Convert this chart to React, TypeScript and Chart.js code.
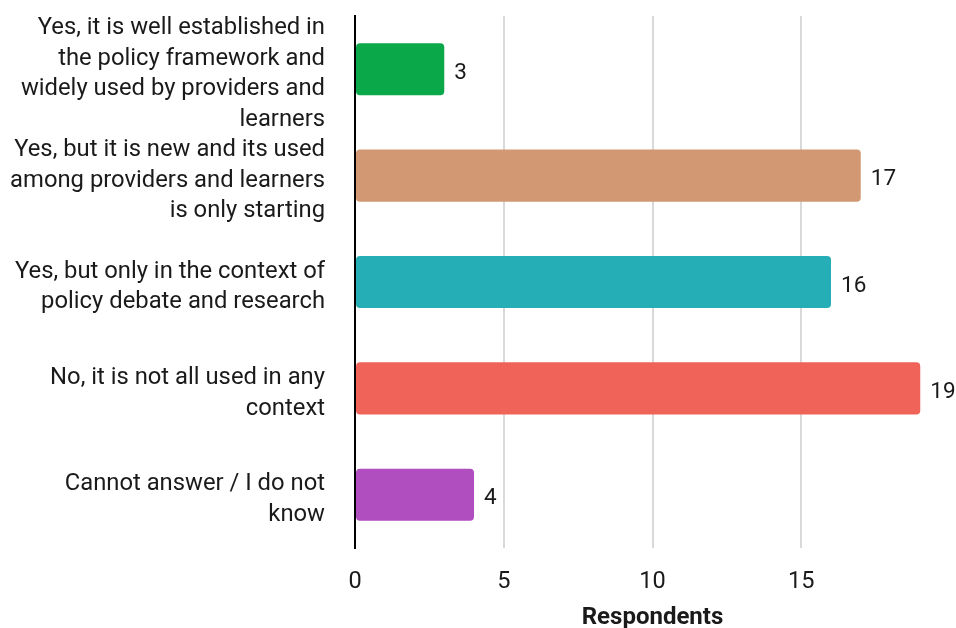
import React, { useEffect, useRef } from "react";
import { Chart, registerables } from "chart.js";

Chart.register(...registerables);

const categories: string[][] = [
  ["Yes, it is well established in", "the policy framework and", "widely used by providers and", "learners"],
  ["Yes, but it is new and its used", "among providers and learners", "is only starting"],
  ["Yes, but only in the context of", "policy debate and research"],
  ["No, it is not all used in any", "context"],
  ["Cannot answer / I do not", "know"],
];
const respondents: number[] = [3, 17, 16, 19, 4];
const barColors: string[] = ["#0BA84A", "#D29873", "#26AEB7", "#EF6359", "#B04EBF"];
const xTitle = "Respondents";

const valueLabels = {
  id: "valueLabels",
  afterDatasetsDraw(chart: any) {
    const ctx = chart.ctx;
    const meta = chart.getDatasetMeta(0);
    const data = chart.data.datasets[0].data;
    ctx.save();
    ctx.font = "22.5px Roboto";
    ctx.fillStyle = "#1a1a1a";
    ctx.textAlign = "left";
    ctx.textBaseline = "middle";
    meta.data.forEach((bar: any, i: number) => {
      ctx.fillText(String(data[i]), bar.x + 10, bar.y + 4);
    });
    ctx.restore();
  },
};

export default function App() {
  const ref = useRef<HTMLCanvasElement>(null);
  useEffect(() => {
    if (!ref.current) return;
    const chart = new Chart(ref.current, {
      type: "bar",
      data: {
        labels: categories,
        datasets: [
          {
            data: respondents,
            backgroundColor: barColors,
            borderRadius: 4,
            borderSkipped: false,
            barPercentage: 0.49,
            categoryPercentage: 1,
          },
        ],
      },
      options: {
        indexAxis: "y",
        responsive: false,
        animation: false,
        layout: { padding: { top: 16, right: 6, left: 0, bottom: 0 } },
        plugins: { legend: { display: false }, tooltip: { enabled: false } },
        scales: {
          x: {
            min: 0,
            max: 20,
            ticks: {
              stepSize: 5,
              padding: 20,
              color: "#1a1a1a",
              font: { family: "Roboto", size: 23.5 },
              callback: (v: any) => (v === 20 ? "" : String(v)),
            },
            grid: {
              drawTicks: false,
              lineWidth: 2,
              color: (c: any) => (c.tick && (c.tick.value === 0 || c.tick.value === 20) ? "rgba(0,0,0,0)" : "#d9d9d9"),
            },
            border: { display: false },
            title: {
              display: true,
              text: xTitle,
              color: "#1a1a1a",
              font: { family: "Roboto", size: 24, weight: "bold", lineHeight: 0.8 },
              padding: { top: 0, bottom: 0 },
            },
            afterFit: (s: any) => {
              s.height = 80;
              s.paddingLeft = 0;
              s.paddingRight = 0;
            },
          },
          y: {
            grid: { display: false, drawTicks: false },
            border: { display: true, color: "#000000", width: 2 },
            ticks: {
              autoSkip: false,
              padding: 30,
              labelOffset: 5,
              color: "#1a1a1a",
              font: { family: "Roboto", size: 23.8, lineHeight: 1.29 },
            },
            afterFit: (s: any) => {
              s.width = 355;
              s.paddingTop = 0;
              s.paddingBottom = 0;
            },
          },
        },
      },
      plugins: [valueLabels],
    });
    return () => chart.destroy();
  }, []);
  return (
    <div style={{ position: "fixed", left: 0, top: 0, width: 956, height: 628, background: "#fff" }}>
      <canvas ref={ref} width={956} height={628} style={{ display: "block" }} />
    </div>
  );
}
